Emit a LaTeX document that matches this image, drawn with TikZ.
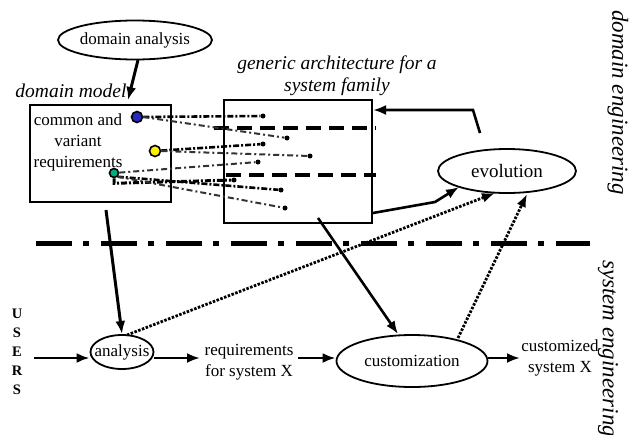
\documentclass[tikz,border=0pt]{standalone}
\usepackage{fontspec}
\setmainfont{Liberation Serif}
\usetikzlibrary{shapes.geometric,arrows.meta}
\definecolor{dotblue}{RGB}{40,40,190}
\definecolor{dotyellow}{RGB}{255,240,0}
\definecolor{dotteal}{RGB}{0,170,130}
\tikzset{
  txt/.style={font=\fontsize{17}{20.5}\selectfont, inner sep=0pt, align=center},
  itxt/.style={txt, font=\fontsize{19.5}{22}\selectfont\itshape},
  ell/.style={draw, ellipse, line width=1.8pt, inner sep=0pt},
  arr/.style={line width=2.6pt, -{Latex[length=13pt,width=10pt]}},
  dotarr/.style={line width=2.8pt, dash pattern=on 2.5pt off 1.5pt, -{Latex[length=13pt,width=10pt]}},
  link/.style={line width=2.6pt, dash pattern=on 6pt off 2pt on 2pt off 2pt},
  thinlink/.style={line width=2pt, black!80, dash pattern=on 6pt off 3pt on 2pt off 3pt},
  enddot/.style={circle, fill=black, inner sep=0pt, minimum size=5pt},
  bigdash/.style={line width=3.2pt, dash pattern=on 15pt off 8pt},
  req/.style={circle, draw, line width=1.6pt, inner sep=0pt, minimum size=11pt}
}
\begin{document}
\begin{tikzpicture}[x=1pt,y=-1pt]
\useasboundingbox (0,0) rectangle (634,434);

% domain analysis
\node[ell, minimum width=154pt, minimum height=39pt] (da) at (135,40) {};
\node[txt] at (135,40) {domain analysis};
\node[itxt] (dmlabel) at (71,91) {domain model};
\coordinate (daout) at (138,60);
\coordinate (dmin) at (128,100);
\draw[arr, line width=3pt] (daout) -- (dmin);

% domain model box
\node[draw, line width=1.8pt, minimum width=141pt, minimum height=97pt, inner sep=0pt] (dm) at (100.5,153.5) {};
\node[txt, font=\fontsize{17}{21}\selectfont] at (78,142) {common and\\variant\\requirements};

% generic architecture box
\node[itxt] (galabel) at (337,76) {generic architecture for a\\system family};
\node[draw, line width=1.8pt, minimum width=148pt, minimum height=123pt, inner sep=0pt] (ga) at (298,161.5) {};

% dashed lines in architecture
\coordinate (d1a) at (214,128); \coordinate (d1b) at (376,128);
\coordinate (d2a) at (226,175); \coordinate (d2b) at (376,175);
\draw[bigdash] (d1a) -- (d1b);
\draw[bigdash] (d2a) -- (d2b);

% end dots
\node[enddot] (e1) at (263,116) {};
\node[enddot] (e2) at (287,138) {};
\node[enddot] (e3) at (263,144) {};
\node[enddot] (e4) at (310,156) {};
\node[enddot] (e5) at (258,162) {};
\node[enddot] (e6) at (234,180) {};
\node[enddot] (e7) at (281,190) {};
\node[enddot] (e8) at (285,208) {};

% requirement dots
\node[req, fill=dotblue] (rb) at (137,117) {};
\node[req, fill=dotyellow] (ry) at (155,151) {};
\node[req, fill=dotteal, minimum size=9pt] (rt) at (114,173) {};

\draw[link] (rb) -- (e1);
\draw[thinlink] (rb.east) -- (e2);
\draw[link] (ry) -- (e3);
\draw[thinlink] (ry.east) -- (e4);
\draw[thinlink] (rt) -- (e5);
\draw[link, line width=3pt] (rt.south) -- ++(0,5) -- (e6);
\draw[link] (rt.south east) -- (e7);
\draw[thinlink] (rt.south east) -- (e8);

% evolution
\node[ell, minimum width=138pt, minimum height=44pt] (ev) at (507,171) {};
\node[txt, font=\fontsize{19}{22}\selectfont] at (507,171) {evolution};
\coordinate (evtop) at (480,133);
\coordinate (evbend) at (473,110);
\coordinate (gain) at (373,110);
\draw[arr] (evtop) -- (evbend) -- (gain);
\coordinate (gaout) at (373,213);
\coordinate (gabend) at (435,202);
\coordinate (evin1) at (459,187);
\draw[arr] (gaout) -- (gabend) -- (evin1);

% separator
\coordinate (sepa) at (36,243); \coordinate (sepb) at (590,243);
\draw[line width=5pt, dash pattern=on 36pt off 11pt on 6pt off 12pt] (sepa) -- (sepb);

% lower part
\node[ell, minimum width=63pt, minimum height=34pt] (an) at (122,352) {};
\node[txt] at (122,352) {analysis};
\node[txt] (rq) at (249,362) {requirements\\for system X};
\node[ell, minimum width=151pt, minimum height=52pt] (cu) at (412,361) {};
\node[txt] at (412,361) {customization};
\node[txt] (cs) at (560,358) {customized\\system X};
\node[txt, font=\fontsize{14.5}{19}\selectfont\bfseries] (users) at (17,352) {U\\S\\E\\R\\S};

\coordinate (usr) at (34,358);
\draw[arr] (usr) -- (an.west |- usr);
\draw[arr] (an.east |- usr) -- (200,358);
\coordinate (rqr) at (298,358);
\draw[arr] (rqr) -- (cu.west |- rqr);
\draw[arr] (cu.east |- rqr) -- (520,358);

\coordinate (dmout) at (106,210);
\coordinate (anin) at (122,334);
\draw[arr, line width=3pt] (dmout) -- (anin);
\coordinate (gaout2) at (318,218);
\coordinate (cuin) at (398,334);
\draw[arr] (gaout2) -- (cuin);

\coordinate (anout) at (127,335);
\coordinate (evin2) at (495,193);
\draw[dotarr] (anout) -- (evin2);
\coordinate (cuout) at (458,338);
\coordinate (evin3) at (527,194);
\draw[dotarr] (cuout) -- (evin3);

% side labels
\node[itxt, font=\fontsize{23}{26}\selectfont\itshape, rotate=-90, anchor=west] (de) at (618,10) {domain engineering};
\node[itxt, font=\fontsize{23}{26}\selectfont\itshape, rotate=-90, anchor=west] (se) at (608,260) {system engineering};
\end{tikzpicture}
\end{document}
